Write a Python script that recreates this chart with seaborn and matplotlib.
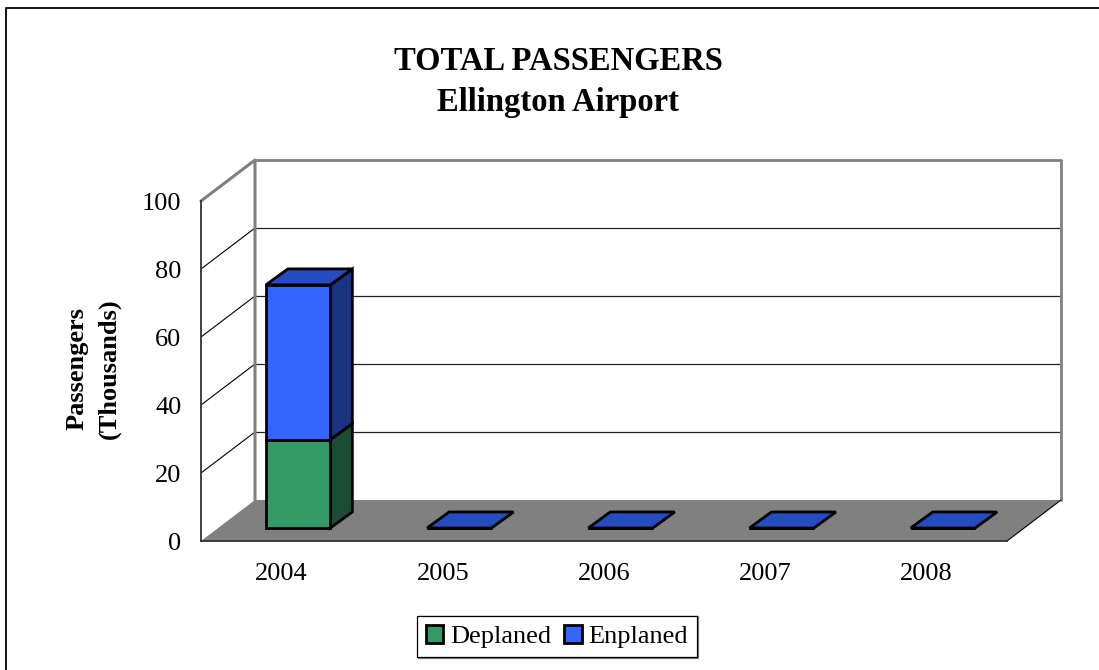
# Total passengers chart, faux 3D column look on a normal axes
import matplotlib
matplotlib.use("Agg")
import matplotlib.pyplot as plt
from matplotlib.lines import Line2D
from matplotlib.patches import Patch, Polygon
import seaborn as sns

years = ["2004", "2005", "2006", "2007", "2008"]
deplaned = [26, 0, 0, 0, 0]
enplaned = [45.5, 0, 0, 0, 0]
y_ticks = [0, 20, 40, 60, 80, 100]

sns.set_theme(style="white")
plt.rcParams["font.family"] = ["Liberation Serif", "DejaVu Serif"]

W, H = 1099, 670
fig = plt.figure(figsize=(W / 100, H / 100), dpi=100, facecolor="white")
ax = fig.add_axes([201 / W, (H - 541) / H, 806 / W, 340 / H])

GREEN, GREEN_SIDE = "#339966", "#1A4D33"
BLUE, BLUE_SIDE, BLUE_TOP = "#3366FF", "#1A3380", "#264DBF"
WALL = "#808080"
EDGE = 2.0

# bars
sns.barplot(x=years, y=deplaned, color=GREEN, saturation=1, width=0.4,
            errorbar=None, ax=ax, zorder=5)
n = len(ax.patches)
sns.barplot(x=years, y=enplaned, bottom=deplaned, color=BLUE, saturation=1, width=0.4,
            errorbar=None, ax=ax, zorder=5)

ax.set_xlim(-0.5, 4.5)
ax.set_ylim(0, 100)

# pixel sizes in data units
px = 5 / 806
py = 100 / 340
wall_dx, wall_dy = 54 * px, 41 * py      # depth of the whole box
bar_dx, bar_dy = 16.5 * px, 13 * py      # bar offset from the front plane
side_dx, side_dy = 22 * px, 16 * py      # depth of a bar

x0, x1 = ax.get_xlim()

# floor and walls
ax.add_patch(Polygon([(x0, 0), (x1, 0), (x1 + wall_dx, wall_dy), (x0 + wall_dx, wall_dy)],
                     closed=True, fc=WALL, ec="none", clip_on=False, zorder=1))
for v in y_ticks[1:-1]:
    ax.plot([x0, x0 + wall_dx], [v, v + wall_dy], color="black", lw=0.8, clip_on=False, zorder=2)
    ax.plot([x0 + wall_dx, x1 + wall_dx], [v + wall_dy, v + wall_dy], color="#222222", lw=0.9,
            clip_on=False, zorder=2)
ax.plot([x0, x0 + wall_dx, x0 + wall_dx], [100, 100 + wall_dy, wall_dy], color=WALL, lw=2.2,
        clip_on=False, zorder=2)
ax.plot([x0 + wall_dx, x1 + wall_dx, x1 + wall_dx], [100 + wall_dy, 100 + wall_dy, wall_dy],
        color=WALL, lw=2.0, clip_on=False, zorder=2)
ax.plot([x1, x1 + wall_dx], [0, wall_dy], color="black", lw=0.8, clip_on=False, zorder=2)

# shift bars into the box and add side and top faces
for i, bar in enumerate(ax.patches):
    if isinstance(bar, Polygon):
        continue
    bar.set_x(bar.get_x() + bar_dx)
    bar.set_y(bar.get_y() + bar_dy)
    bar.set_edgecolor("black")
    bar.set_linewidth(EDGE)
    bar.set_clip_on(False)
    bx, by = bar.get_x(), bar.get_y()
    bw, bh = bar.get_width(), bar.get_height()
    side = GREEN_SIDE if i < n else BLUE_SIDE
    if bh > 0:
        ax.add_patch(Polygon([(bx + bw, by), (bx + bw + side_dx, by + side_dy),
                              (bx + bw + side_dx, by + bh + side_dy), (bx + bw, by + bh)],
                             closed=True, fc=side, ec="black", lw=EDGE, clip_on=False, zorder=4))
    if i >= n:
        ax.add_patch(Polygon([(bx, by + bh), (bx + bw, by + bh),
                              (bx + bw + side_dx, by + bh + side_dy), (bx + side_dx, by + bh + side_dy)],
                             closed=True, fc=BLUE_TOP, ec="black", lw=EDGE, clip_on=False, zorder=6))

# axes
sns.despine(ax=ax, top=True, right=True)
for s in ["left", "bottom"]:
    ax.spines[s].set_color("#333333")
    ax.spines[s].set_linewidth(1.3)
    ax.spines[s].set_zorder(7)
ax.set_yticks(y_ticks)
ax.set_xticks(range(len(years)), years)
ax.set_xticks([x0 + i for i in range(len(years) + 1)], minor=True)
ax.tick_params(axis="x", which="major", length=0, labelsize=19, pad=15.5, colors="black")
ax.tick_params(axis="x", which="minor", length=5, width=0.9, color="#333333")
ax.tick_params(axis="y", length=5, width=0.9, color="#333333", labelsize=19, pad=9, labelcolor="black")
ax.set_xlabel("")
ax.patch.set_alpha(0)

fig.text(558 / W, 1 - 61 / H, "TOTAL PASSENGERS", ha="center", va="center",
         fontsize=23.5, fontweight="bold", color="black")
fig.text(558 / W, 1 - 102 / H, "Ellington Airport", ha="center", va="center",
         fontsize=23.5, fontweight="bold", color="black")
fig.text(93 / W, 1 - 369 / H, "Passengers\n(Thousands)", ha="center", va="center", rotation=90,
         fontsize=19, fontweight="bold", color="black", linespacing=1.5, multialignment="center")

handles = [Patch(fc=GREEN, ec="black", lw=2.0, label="Deplaned"),
           Patch(fc=BLUE, ec="black", lw=2.0, label="Enplaned")]
leg = fig.legend(handles=handles, ncol=2, loc="center", bbox_to_anchor=(557 / W, 1 - 636.5 / H),
                 fontsize=19, frameon=True, fancybox=False, edgecolor="black", framealpha=1,
                 handlelength=0.65, handleheight=0.65, handletextpad=0.25, columnspacing=0.5,
                 borderpad=0.35, borderaxespad=0,
                 shadow={"ox": 0.5, "oy": -0.5, "color": "#808080", "alpha": 1})
leg.get_frame().set_linewidth(0.9)
for t in leg.get_texts():
    t.set_color("black")

# outer frame
fig.add_artist(Line2D([6 / W, 6 / W, 1], [0, 1 - 7.5 / H, 1 - 7.5 / H], color="black", lw=1.3))

fig.savefig("out.png", dpi=100)
